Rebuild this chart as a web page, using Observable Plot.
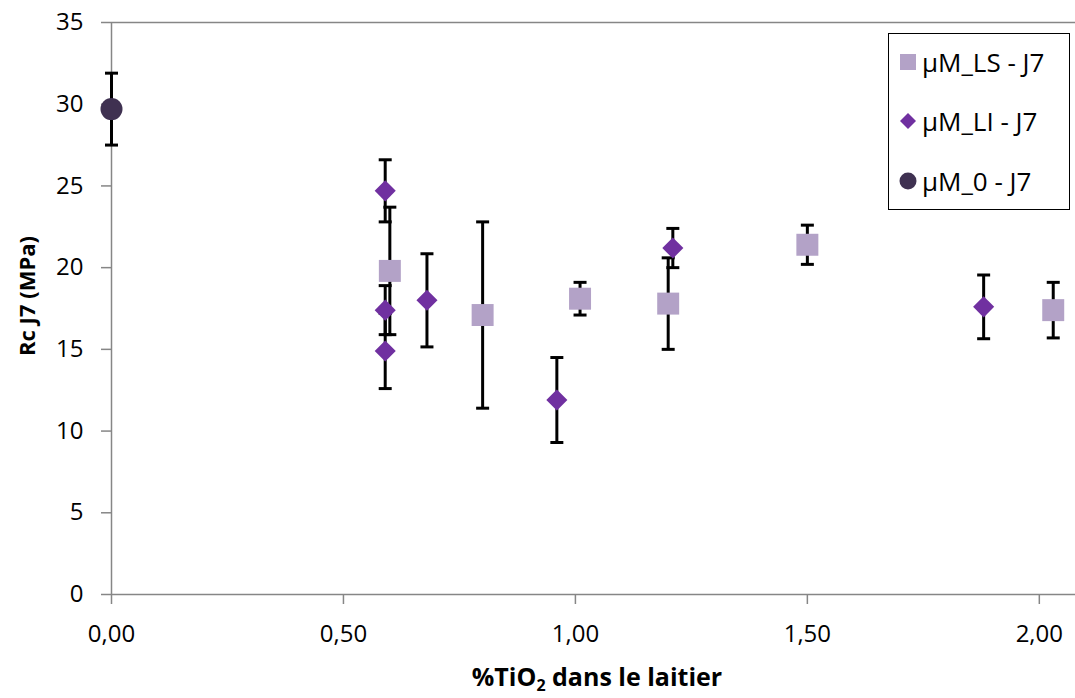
<!DOCTYPE html>
<html><head><meta charset="utf-8">
<script src="https://cdn.jsdelivr.net/npm/d3@7"></script>
<script src="https://cdn.jsdelivr.net/npm/@observablehq/plot@0.6"></script>
<style>
body{margin:0;background:#fff;font-family:"Open Sans",sans-serif}
#wrap{position:relative;width:1075px;height:698px;overflow:hidden}
#legend{position:absolute;left:888px;top:33px;width:182px;height:177px;border:1.5px solid #000;box-sizing:border-box;background:#fff}
.item{position:absolute;left:0;height:30px;display:flex;align-items:center;font-size:26px;color:#000;white-space:nowrap}
.item svg{margin-left:9px;margin-right:4px}
</style>
</head><body>
<div id="wrap"></div>
<script>
// µM_LS - J7
const lsX = [0.60, 0.80, 1.01, 1.20, 1.50, 2.03];
const lsY = [19.8, 17.1, 18.1, 17.8, 21.4, 17.4];
const lsErr = [3.9, 5.7, 1.0, 2.8, 1.2, 1.7];
// µM_LI - J7
const liX = [0.59, 0.59, 0.59, 0.68, 0.96, 1.21, 1.88];
const liY = [24.7, 17.4, 14.9, 18.0, 11.9, 21.2, 17.6];
const liErr = [1.9, 1.5, 2.3, 2.85, 2.6, 1.2, 1.95];
// µM_0 - J7
const zX = [0.00];
const zY = [29.7];
const zErr = [2.2];

const seriesNames = ["µM_LS - J7", "µM_LI - J7", "µM_0 - J7"];
const seriesColors = ["#b3a2c7", "#7030a0", "#3f3151"];
const xTicks = [0, 0.5, 1, 1.5, 2];
const yTicks = [0, 5, 10, 15, 20, 25, 30, 35];

const rec = (xs, ys, es, s) => xs.map((x, i) => ({x, y: ys[i], e: es[i], s}));
const ls = rec(lsX, lsY, lsErr, seriesNames[0]);
const li = rec(liX, liY, liErr, seriesNames[1]);
const z0 = rec(zX, zY, zErr, seriesNames[2]);
const all = [...ls, ...li, ...z0];
const caps = all.flatMap(d => [{x: d.x, y: d.y - d.e}, {x: d.x, y: d.y + d.e}]);
const capSymbol = {draw(ctx) { ctx.moveTo(-6.5, 0); ctx.lineTo(6.5, 0); }};

const chart = Plot.plot({
  width: 1075, height: 698,
  marginLeft: 111, marginRight: 0, marginTop: 22, marginBottom: 104,
  x: {domain: [0, 2.078]},
  y: {domain: [0, 35]},
  style: {fontFamily: "Open Sans, sans-serif", fontSize: "24px", color: "#000", background: "#fff", overflow: "visible"},
  marks: [
    Plot.ruleY([35], {stroke: "#868686", strokeWidth: 1.5}),
    Plot.axisY({ticks: yTicks, tickSize: 10, tickPadding: 18, stroke: "#868686", strokeWidth: 1.5, fill: "#000", label: null, fontSize: 24}),
    Plot.axisX({ticks: xTicks, tickSize: 10, tickPadding: 20, stroke: "#868686", strokeWidth: 1.5, fill: "#000", label: null, fontSize: 24,
      tickFormat: d => d.toFixed(2).replace(".", ",")}),
    Plot.ruleX([0], {stroke: "#868686", strokeWidth: 1.5}),
    Plot.ruleY([0], {stroke: "#868686", strokeWidth: 1.5}),
    Plot.ruleX(all, {x: "x", y1: d => d.y - d.e, y2: d => d.y + d.e, stroke: "#000", strokeWidth: 3}),
    Plot.dot(caps, {x: "x", y: "y", symbol: capSymbol, fill: "none", stroke: "#000", strokeWidth: 3, r: 5}),
    Plot.dot(ls, {x: "x", y: "y", symbol: "square", r: 12.4, fill: seriesColors[0], stroke: "none"}),
    Plot.dot(li, {x: "x", y: "y", symbol: "diamond2", r: 9.5, fill: seriesColors[1], stroke: "none"}),
    Plot.dot(z0, {x: "x", y: "y", symbol: "circle", r: 11, fill: seriesColors[2], stroke: "none"})
  ]
});
document.getElementById("wrap").appendChild(chart);

const svg = d3.select(chart);
const xl = svg.append("text").attr("x", 597).attr("y", 686).attr("text-anchor", "middle")
  .attr("font-weight", "bold").attr("font-size", 25).attr("font-family", "Open Sans, sans-serif").attr("fill", "#000");
xl.append("tspan").text("%TiO");
xl.append("tspan").attr("font-size", 16).attr("dy", 5).text("2");
xl.append("tspan").attr("dy", -5).text(" dans le laitier");
svg.append("text").attr("transform", "translate(35,296) rotate(-90)").attr("text-anchor", "middle")
  .attr("font-weight", "bold").attr("font-size", 22).attr("font-family", "Open Sans, sans-serif").attr("fill", "#000")
  .text("Rc J7 (MPa)");

// legend
const leg = document.createElement("div");
leg.id = "legend";
const symbols = [
  '<rect x="2" y="2" width="16" height="16" fill="' + seriesColors[0] + '"/>',
  '<path d="M10 2 L18 10 L10 18 L2 10 Z" fill="' + seriesColors[1] + '"/>',
  '<circle cx="10" cy="10" r="8.5" fill="' + seriesColors[2] + '"/>'
];
const tops = [13, 72, 132];
seriesNames.forEach((n, i) => {
  const it = document.createElement("div");
  it.className = "item";
  it.style.top = tops[i] + "px";
  it.innerHTML = '<svg width="20" height="20">' + symbols[i] + '</svg><span>' + n + '</span>';
  leg.appendChild(it);
});
document.getElementById("wrap").appendChild(leg);
</script>
</body></html>
